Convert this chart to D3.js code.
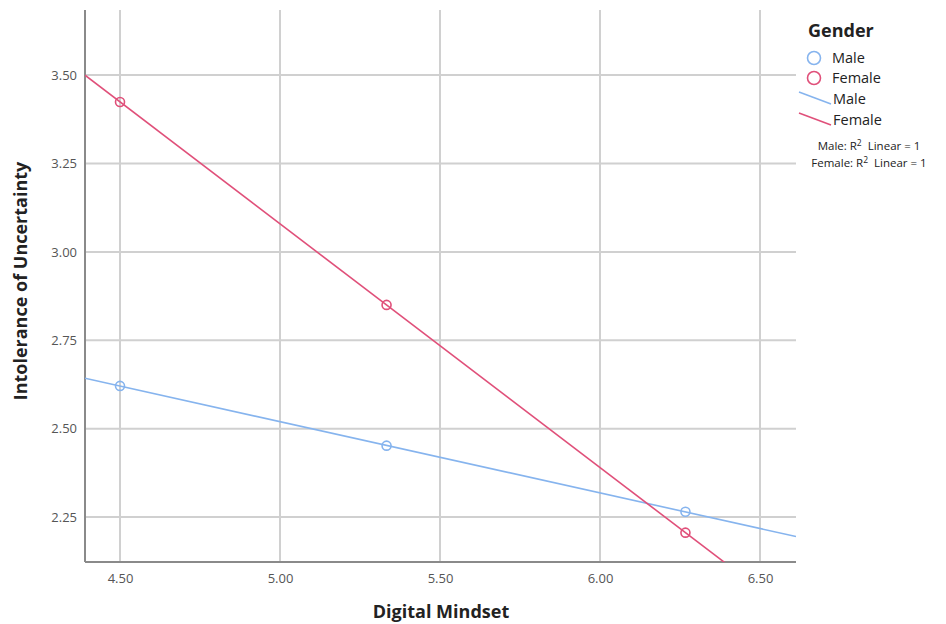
<!DOCTYPE html>
<html><head><meta charset="utf-8">
<script src="https://cdn.jsdelivr.net/npm/d3@7"></script>
<style>
body{margin:0;background:#fff;}
svg{display:block;font-family:"Open Sans","DejaVu Sans",sans-serif;}
</style></head>
<body><svg id="c" width="946" height="624"></svg>
<script>
const digitalMindset = [4.50, 5.333, 6.267];
const maleValues = [2.621, 2.452, 2.265];
const femaleValues = [3.424, 2.850, 2.206];
const xTicks = [4.50, 5.00, 5.50, 6.00, 6.50];
const yTicks = [2.25, 2.50, 2.75, 3.00, 3.25, 3.50];
const seriesNames = ["Male", "Female"];
const seriesColors = ["#86b4ee", "#e0507a"];

const svg = d3.select("#c");
const L = 85, R = 796, T = 10, B = 562;
const x = d3.scaleLinear().domain([4.3906, 6.6125]).range([L, R]);
const y = d3.scaleLinear().domain([2.123, 3.684]).range([B, T]);

const series = [
  {name: seriesNames[0], color: seriesColors[0], vals: maleValues},
  {name: seriesNames[1], color: seriesColors[1], vals: femaleValues}
];

// grid
const g = svg.append("g");
g.selectAll(".gx").data(xTicks).join("line")
  .attr("x1", d => x(d)).attr("x2", d => x(d)).attr("y1", T).attr("y2", B)
  .attr("stroke", "#d0d0d0").attr("stroke-width", 2);
g.selectAll(".gy").data(yTicks).join("line")
  .attr("x1", L).attr("x2", R).attr("y1", d => y(d)).attr("y2", d => y(d))
  .attr("stroke", "#d0d0d0").attr("stroke-width", 2);

// axes
const xAxis = d3.axisBottom(x).tickValues(xTicks).tickFormat(d3.format(".2f")).tickSize(0).tickPadding(12);
const yAxis = d3.axisLeft(y).tickValues(yTicks).tickFormat(d3.format(".2f")).tickSize(0).tickPadding(8);
const ax = svg.append("g").attr("transform", `translate(0,${B})`).call(xAxis);
const ay = svg.append("g").attr("transform", `translate(${L},0)`).call(yAxis);
[ax, ay].forEach(a => {
  a.select(".domain").remove();
  a.selectAll("text").attr("fill", "#555").attr("font-size", 13).attr("font-family", "'Open Sans','DejaVu Sans',sans-serif");
});
svg.append("line").attr("x1", L).attr("x2", L).attr("y1", T).attr("y2", B).attr("stroke", "#8a8a8a").attr("stroke-width", 2);
svg.append("line").attr("x1", L).attr("x2", R).attr("y1", B).attr("y2", B).attr("stroke", "#8a8a8a").attr("stroke-width", 2);

// clip
svg.append("clipPath").attr("id", "clip").append("rect").attr("x", L).attr("y", T).attr("width", R - L).attr("height", B - T);

// fit lines (least squares through each series)
function fit(xs, ys) {
  const mx = d3.mean(xs), my = d3.mean(ys);
  const b = d3.sum(xs, (v, i) => (v - mx) * (ys[i] - my)) / d3.sum(xs, v => (v - mx) ** 2);
  return {b, a: my - b * mx};
}
const dom = x.domain();
const line = d3.line().x(d => x(d[0])).y(d => y(d[1]));
const pl = svg.append("g").attr("clip-path", "url(#clip)");
series.forEach(s => {
  const f = fit(digitalMindset, s.vals);
  pl.append("path").datum(dom.map(v => [v, f.a + f.b * v]))
    .attr("d", line).attr("fill", "none").attr("stroke", s.color).attr("stroke-width", 1.6);
});
series.forEach(s => {
  pl.selectAll(null).data(digitalMindset.map((v, i) => [v, s.vals[i]])).join("circle")
    .attr("cx", d => x(d[0])).attr("cy", d => y(d[1])).attr("r", 4.5)
    .attr("fill", "none").attr("stroke", s.color).attr("stroke-width", 1.6);
});

// axis titles
svg.append("text").attr("x", x(5.5) + 1).attr("y", 618).attr("text-anchor", "middle")
  .attr("font-size", 18).attr("font-weight", "bold").attr("fill", "#222").text("Digital Mindset");
svg.append("text").attr("transform", `translate(27,${(T + B) / 2 - 5}) rotate(-90)`).attr("text-anchor", "middle")
  .attr("font-size", 18).attr("font-weight", "bold").attr("fill", "#222").text("Intolerance of Uncertainty");

// legend
const lg = svg.append("g");
lg.append("text").attr("x", 808).attr("y", 37).attr("font-size", 18).attr("font-weight", "bold").attr("fill", "#222").text("Gender");
series.forEach((s, i) => {
  const cy = 58 + i * 20;
  lg.append("circle").attr("cx", 814).attr("cy", cy).attr("r", 6.5).attr("fill", "none").attr("stroke", s.color).attr("stroke-width", 1.6);
  lg.append("text").attr("x", 832).attr("y", cy + 5).attr("font-size", 14.5).attr("fill", "#222").text(s.name);
});
series.forEach((s, i) => {
  const cy = 99 + i * 21;
  lg.append("line").attr("x1", 799).attr("y1", cy - 7).attr("x2", 831).attr("y2", cy + 5).attr("stroke", s.color).attr("stroke-width", 1.6);
  lg.append("text").attr("x", 833).attr("y", cy + 5).attr("font-size", 14.5).attr("fill", "#222").text(s.name);
});
series.forEach((s, i) => {
  const t = lg.append("text").attr("x", 869).attr("y", 150 + i * 17).attr("text-anchor", "middle").attr("font-size", 11.5).attr("fill", "#222");
  t.append("tspan").text(s.name + ": R");
  t.append("tspan").attr("dy", -4).attr("font-size", 8.5).text("2");
  t.append("tspan").attr("dy", 4).text("\u00a0 Linear = 1");
});
</script></body></html>
